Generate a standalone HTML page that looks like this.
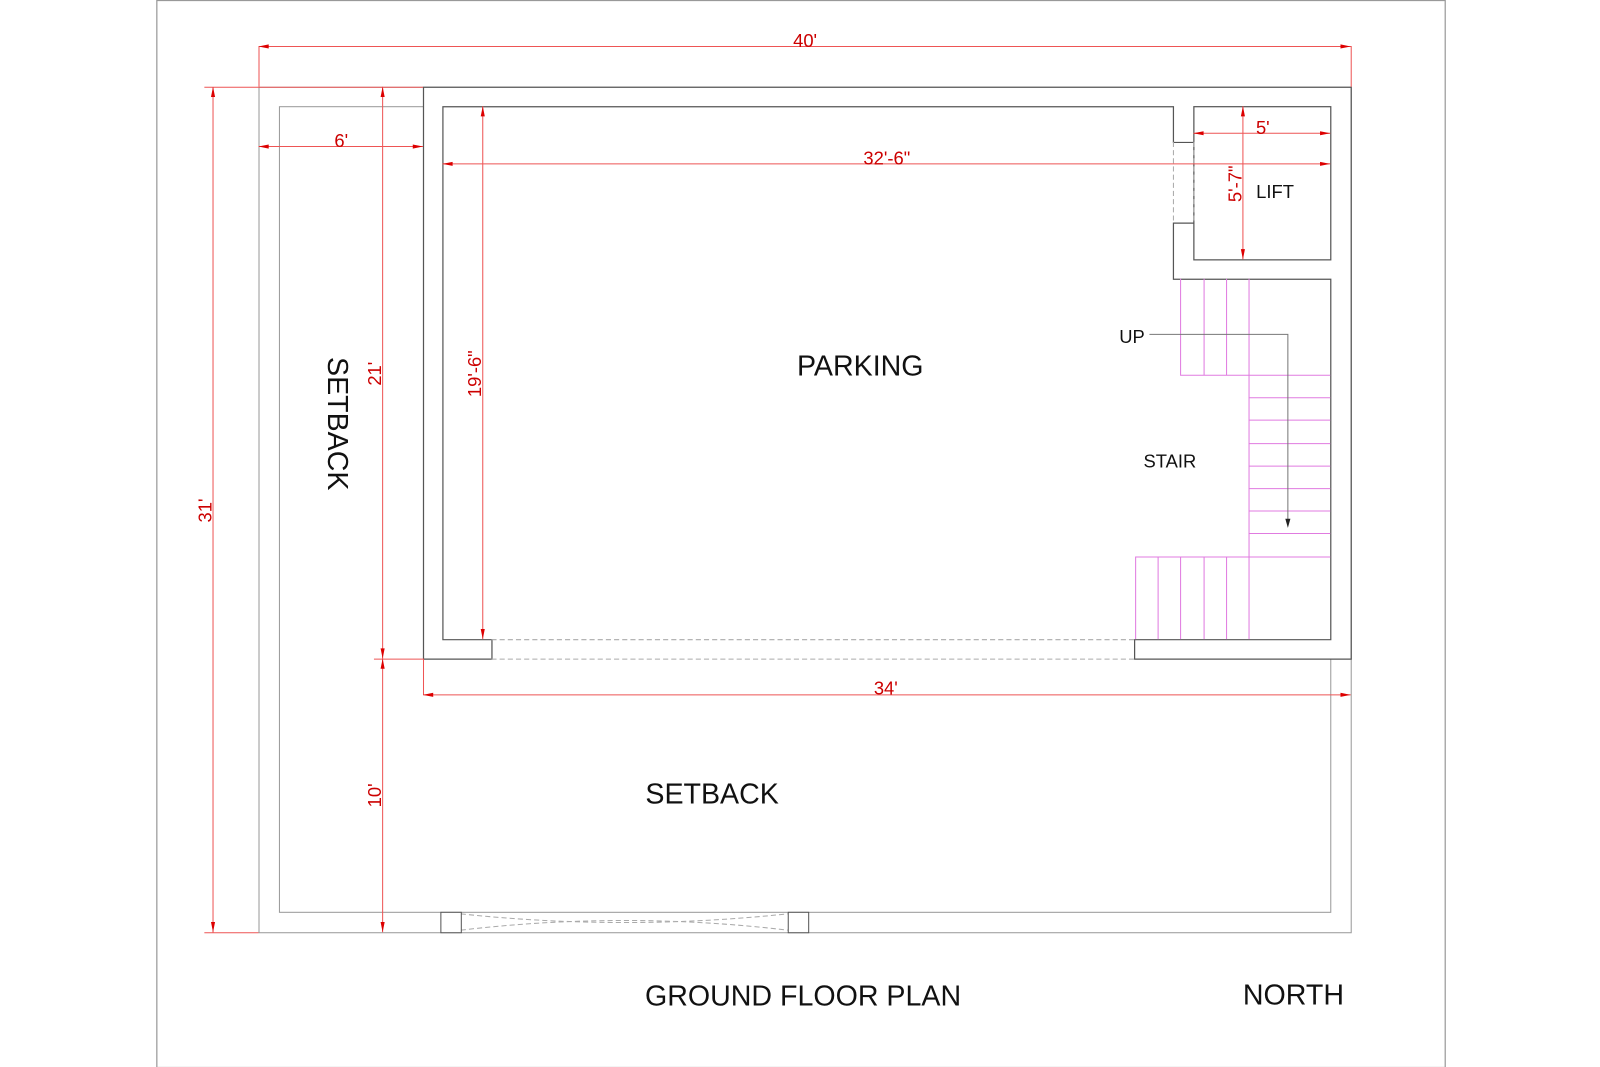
<!DOCTYPE html>
<html><head><style>body{margin:0;background:#fff;overflow:hidden}svg{display:block}</style></head><body>
<svg width="1600" height="1067" viewBox="0 0 1566 1045" preserveAspectRatio="none" xmlns="http://www.w3.org/2000/svg" font-family="Liberation Sans, Arial, sans-serif">
<rect x="153.5" y="0.5" width="1261" height="1045" fill="none" stroke="#999" stroke-width="1.2"/>
<g fill="none" stroke="#999" stroke-width="1">
<rect x="253.5" y="85.5" width="1069" height="828"/>
<rect x="273.5" y="104.5" width="1029" height="789"/>
</g>
<rect x="414" y="85" width="908" height="560" fill="#fff"/>
<g fill="none" stroke="#555" stroke-width="1.2">
<path d="M414.5 645.5V85.5H1322.5V645.5H1110.5V626.5H1302.5V273.5H1148.5V218.5H1168.5"/>
<path d="M1168.5 139.5H1148.5V104.5H433.5V626.5H481.5V645.5H414.5"/>
<rect x="1168.5" y="104.5" width="134" height="150"/>
</g>
<g stroke="#aaa" stroke-dasharray="5,3" fill="none">
<path d="M481 626.5H1110M481 645.5H1110M1148.5 139V218M1168.5 139V218"/>
<path d="M451 895Q611 912 771 895M451 911Q611 892 771 911"/>
</g>
<g fill="#fff" stroke="#555"><rect x="431.5" y="893.5" width="20" height="20"/><rect x="771.5" y="893.5" width="20" height="20"/></g>
<g stroke="#e07be0" stroke-width="1" fill="none">
<path d="M1155.5 273V367.5H1302M1178.5 273V367M1200.5 273V367M1222.5 273V626"/>
<path d="M1222 389.5H1302M1222 411.5H1302M1222 434.5H1302M1222 456.5H1302M1222 478.5H1302M1222 500.5H1302M1222 522.5H1302"/>
<path d="M1111.5 626V545.5H1302M1133.5 545V626M1155.5 545V626M1178.5 545V626M1200.5 545V626"/>
</g>
<path d="M1125 327.5H1260.5V512" stroke="#777" fill="none"/>
<path d="M1258 508L1260.5 517L1263 508Z" fill="#222"/>
<g stroke="#e55" stroke-width="1" fill="none">
<path d="M253.5 45.5H1322.5M253.5 45V85M1322.5 45V85"/>
<path d="M208.5 85V913M200 85.5H414M200 913.5H253"/>
<path d="M374.5 85V913M366 645.5H414"/>
<path d="M253 143.5H414M433 160.5H1302M472.5 104V626M1168 130.5H1302M1216.5 104V254"/>
<path d="M414 680.5H1322M414.5 645V680"/>
</g>
<g fill="#d00">
<path d="M253 45.5l10-2v4zM1322 45.5l-10-2v4zM208.5 85l-2 10h4zM208.5 913l-2-10h4zM374.5 85l-2 10h4zM374.5 645l-2-10h4zM374.5 645l-2 10h4zM374.5 913l-2-10h4zM253 143.5l10-2v4zM414 143.5l-10-2v4zM433 160.5l10-2v4zM1302 160.5l-10-2v4zM472.5 104l-2 10h4zM472.5 626l-2-10h4zM1168 130.5l10-2v4zM1302 130.5l-10-2v4zM1216.5 104l-2 10h4zM1216.5 254l-2-10h4zM414 680.5l10-2v4zM1322 680.5l-10-2v4z"/>
</g>
<g fill="#c00" font-size="18">
<text x="788" y="46" text-anchor="middle">40'</text>
<text x="334" y="144" text-anchor="middle">6'</text>
<text x="868" y="161" text-anchor="middle">32'-6"</text>
<text x="1236" y="131" text-anchor="middle">5'</text>
<text x="867" y="680" text-anchor="middle">34'</text>
<text transform="translate(208 500) rotate(-90)" text-anchor="middle" dy="-1">31'</text>
<text transform="translate(374 366) rotate(-90)" text-anchor="middle" dy="-1">21'</text>
<text transform="translate(374 779) rotate(-90)" text-anchor="middle" dy="-1">10'</text>
<text transform="translate(472 366) rotate(-90)" text-anchor="middle" dy="-1">19'-6"</text>
<text transform="translate(1216 180) rotate(-90)" text-anchor="middle" dy="-1">5'-7"</text>
</g>
<g fill="#111">
<text x="842" y="368" font-size="28" text-anchor="middle">PARKING</text>
<text x="697" y="787" font-size="28" text-anchor="middle">SETBACK</text>
<text transform="translate(321 415) rotate(90)" font-size="28" text-anchor="middle">SETBACK</text>
<text x="1248" y="194" font-size="18" text-anchor="middle">LIFT</text>
<text x="1108" y="336" font-size="18" text-anchor="middle">UP</text>
<text x="1145" y="458" font-size="18" text-anchor="middle">STAIR</text>
<text x="786" y="985" font-size="28" text-anchor="middle">GROUND FLOOR PLAN</text>
<text x="1266" y="984" font-size="28" text-anchor="middle">NORTH</text>
</g>
</svg>
</body></html>
